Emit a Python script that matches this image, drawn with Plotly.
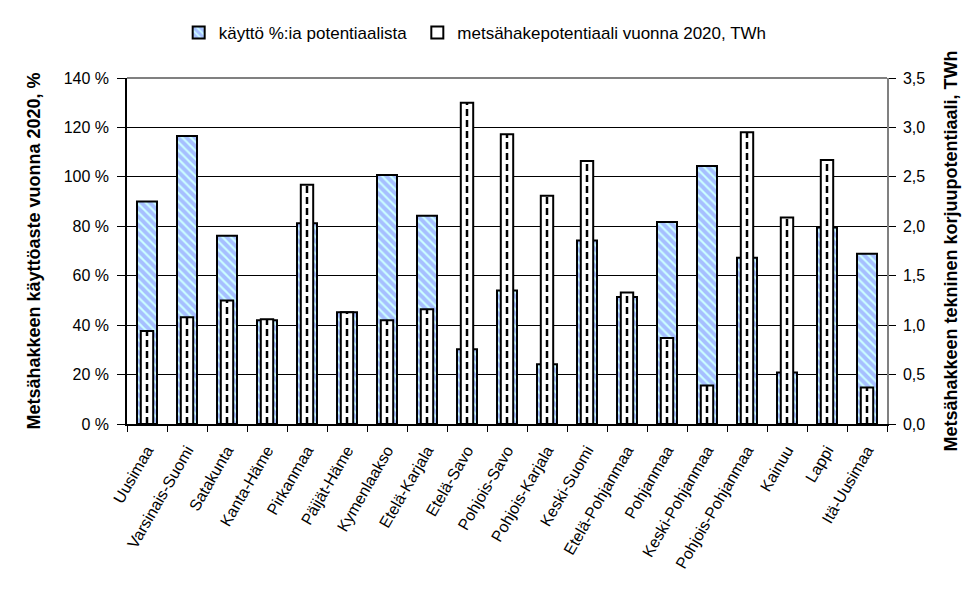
import plotly.graph_objects as go

categories = ["Uusimaa", "Varsinais-Suomi", "Satakunta", "Kanta-Häme", "Pirkanmaa",
              "Päijät-Häme", "Kymenlaakso", "Etelä-Karjala", "Etelä-Savo", "Pohjois-Savo",
              "Pohjois-Karjala", "Keski-Suomi", "Etelä-Pohjanmaa", "Pohjanmaa",
              "Keski-Pohjanmaa", "Pohjois-Pohjanmaa", "Kainuu", "Lappi", "Itä-Uusimaa"]
usage_pct = [90.0, 116.5, 76.2, 42.0, 81.2, 45.2, 100.8, 84.3, 30.2, 54.0,
             24.2, 74.2, 51.4, 81.7, 104.4, 67.3, 20.8, 79.5, 68.9]
potential_twh = [0.94, 1.08, 1.25, 1.06, 2.42, 1.13, 1.05, 1.16, 3.25, 2.93,
                 2.31, 2.66, 1.33, 0.87, 0.39, 2.95, 2.09, 2.67, 0.37]

name_usage = "käyttö %:ia potentiaalista"
name_pot = "metsähakepotentiaali vuonna 2020, TWh"

FONT = "Arial, Liberation Sans, sans-serif"

fig = go.Figure()
fig.add_trace(go.Bar(
    x=categories, y=usage_pct, name=name_usage, width=0.5, legend="legend",
    marker=dict(color="#ccffff", line=dict(color="black", width=2),
                pattern=dict(shape="\\", fgcolor="#7f7fff", bgcolor="#ccffff",
                             size=6, solidity=0.65)),
    yaxis="y"))
fig.add_trace(go.Bar(
    x=categories, y=potential_twh, name=name_pot, width=0.31, legend="legend2",
    marker=dict(color="white", line=dict(color="black", width=2)),
    yaxis="y2"))

# dashed centre line of the white bars
lx, ly = [], []
for c, v in zip(categories, potential_twh):
    lx += [c, c, None]
    ly += [0, v, None]
fig.add_trace(go.Scatter(x=lx, y=ly, mode="lines", yaxis="y2", showlegend=False,
                         line=dict(color="black", width=2.5, dash="7px,4px"),
                         hoverinfo="skip"))

leg_common = dict(orientation="h", xanchor="left", yref="container", y=0.958,
                  yanchor="middle", font=dict(size=17), itemwidth=30,
                  bgcolor="rgba(0,0,0,0)")

fig.update_layout(
    width=976, height=597,
    paper_bgcolor="white", plot_bgcolor="white",
    font=dict(family=FONT, size=15, color="black"),
    separators=", ",
    barmode="overlay",
    margin=dict(l=119, r=97, t=70, b=181),
    showlegend=True,
    legend=dict(x=0.068, **leg_common),
    legend2=dict(x=0.382, **leg_common),
    xaxis=dict(type="category", tickangle=-60, tickson="boundaries", ticks="outside",
               ticklen=6, tickcolor="black", showline=True, linecolor="black", linewidth=1.5,
               showgrid=False, tickfont=dict(size=16), ticklabelstandoff=9),
    yaxis=dict(range=[0, 140], dtick=20, ticksuffix=" %", ticks="outside", ticklen=8,
               tickcolor="black", showline=True, linecolor="black", linewidth=1.5,
               showgrid=True, gridcolor="black", gridwidth=1, zeroline=False,
               tickfont=dict(size=16), ticklabelstandoff=5,
               title=dict(text="<b>Metsähakkeen käyttöaste vuonna 2020, %</b>",
                          font=dict(size=18), standoff=18)),
    yaxis2=dict(range=[0, 3.5], dtick=0.5, tickformat=".1f", overlaying="y", side="right",
                ticks="outside", ticklen=7, tickcolor="black", showline=True,
                linecolor="gray", linewidth=1.5, showgrid=False, zeroline=False,
                tickfont=dict(size=16), ticklabelstandoff=4,
                title=dict(text="<b>Metsähakkeen tekninen korjuupotentiaali, TWh</b>",
                           font=dict(size=18), standoff=20)),
)
fig.add_shape(type="line", xref="paper", yref="paper", x0=0, x1=1, y0=1, y1=1,
              line=dict(color="gray", width=2))

fig.write_html("out.html")
